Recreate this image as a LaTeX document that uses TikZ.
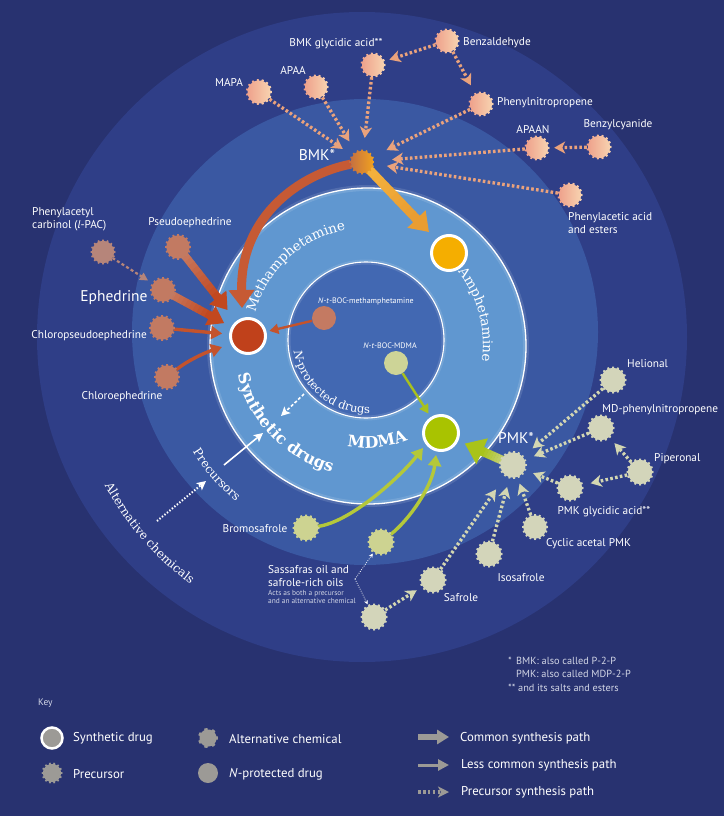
\documentclass[tikz,border=0pt]{standalone}
\usepackage{fontspec}
\setmainfont{PT Sans}
\newfontfamily\slab{DejaVu Serif}
\usetikzlibrary{arrows.meta,calc,decorations.text}
\pgfdeclarelayer{bg}
\pgfdeclarelayer{arr}
\pgfsetlayers{bg,arr,main}
\definecolor{bgc}{HTML}{283270}
\definecolor{ringA}{HTML}{2F3E87}
\definecolor{ringB}{HTML}{3A58A2}
\definecolor{ringC}{HTML}{6097D0}
\definecolor{ringD}{HTML}{4268B2}
\definecolor{peachL}{HTML}{EE9F8A}
\definecolor{peachR}{HTML}{F8D6B2}
\definecolor{bmkL}{HTML}{C46E42}
\definecolor{bmkR}{HTML}{F2A41E}
\definecolor{ephc}{HTML}{C27A62}
\definecolor{lpacc}{HTML}{B6857A}
\definecolor{khaki}{HTML}{D3D5BA}
\definecolor{olive}{HTML}{CDD391}
\definecolor{methc}{HTML}{C0411B}
\definecolor{amphc}{HTML}{F5AE00}
\definecolor{mdmac}{HTML}{A9C300}
\definecolor{precline}{HTML}{EAA27C}
\definecolor{pmkline}{HTML}{D3D6B2}
\definecolor{methline}{HTML}{C4532C}
\definecolor{bmkmeth}{HTML}{C65A34}
\definecolor{greenline}{HTML}{B4C83A}
\definecolor{greenthin}{HTML}{A8C11E}
\definecolor{nbocmc}{HTML}{C47A62}
\definecolor{nbocdc}{HTML}{CDD497}
\definecolor{keygray}{HTML}{9C9A96}
\definecolor{notec}{HTML}{D2D6E6}
\definecolor{ampS}{HTML}{F6B43E}
\definecolor{ampE}{HTML}{E99D32}
\definecolor{pmkS}{HTML}{D2D8A4}
\definecolor{pmkE}{HTML}{A9C31A}
\definecolor{ephS}{HTML}{C98068}
\definecolor{ephE}{HTML}{C2481F}

% gear-like node: name, position, radius, fill options, teeth
\newcommand\gearnode[5]{%
  \node[circle,inner sep=0pt,minimum size={2*#3pt}] (#1) at (#2) {};
  \path[#4,shift={(#1.center)}] plot[domain=0:360,samples=240,variable=\t]
    ({(#3+1.5*(cos(#5*\t)>0.3))*cos(\t)},{(#3+1.5*(cos(#5*\t)>0.3))*sin(\t)}) -- cycle;
}
% gradient arrow: start node, tip coordinate, width, start colour, end colour, tip length, tip width
\newcommand\gradarrow[7]{%
  \coordinate (gbase) at ($(#2)!#6pt!(#1)$);
  \pgfmathsetmacro\gl{#6+2}%
  \coordinate (gpre) at ($(#2)!\gl pt!(#1)$);
  \foreach \i in {0,...,11}{%
    \pgfmathsetmacro\pa{\i/12}%
    \pgfmathsetmacro\pb{min((\i+1)/12+0.01,1)}%
    \pgfmathtruncatemacro\pc{\i*100/11}%
    \draw[line width=#3,#5!\pc!#4] ($(#1)!\pa!(gbase)$) -- ($(#1)!\pb!(gbase)$);
  }
  \draw[line width=#3,#5,-{Triangle[length=#6pt,width=#7pt]}] (gpre) -- (#2);
}
% text along an arc: centre, start angle, end angle, radius, format, text
\newcommand\arctext[6]{%
  \path[decorate,decoration={text along path,text={|#5|#6},text align=center}]
    ($(#1)+(#2:#4)$) arc[start angle=#2,end angle=#3,radius=#4];
}

\begin{document}
\begin{tikzpicture}[x=1pt,y=-1pt,
  lbl/.style={text=white,font=\fontsize{11.3}{13}\selectfont,inner sep=0pt},
  biglbl/.style={text=white,font=\fontsize{15.5}{17}\selectfont,inner sep=0pt},
  smalllbl/.style={text=white,font=\fontsize{8}{9}\selectfont,inner sep=0pt},
  tinylbl/.style={text=notec,font=\fontsize{7.4}{8.2}\selectfont,inner sep=0pt},
  notelbl/.style={text=notec,font=\fontsize{10.3}{11}\selectfont,inner sep=0pt,anchor=west},
  keylbl/.style={text=white,font=\fontsize{12.8}{14}\selectfont,inner sep=0pt,anchor=west},
  drug/.style={circle,draw=white,line width=3pt,minimum size=35pt,inner sep=0pt},
  nprot/.style={circle,minimum size=24pt,inner sep=0pt},
  precpath/.style={line width=3.3pt,dash pattern=on 2.6pt off 2.3pt,-{Stealth[length=11pt,width=12pt,inset=3pt]},shorten <=1pt},
  lesscom/.style={line width=3.4pt,-{Triangle[length=11pt,width=13pt]}},
  thinarr/.style={line width=2.4pt,-{Triangle[length=9pt,width=10pt]}},
  whitearr/.style={white,line width=1.6pt,-{Stealth[length=9pt,width=9pt,inset=2pt]}},
]
\useasboundingbox (0,0) rectangle (724,816);

\begin{pgfonlayer}{bg}
\fill[bgc] (0,0) rectangle (724,816);
\fill[ringA] (362,337) circle[radius=325];
\fill[ringB] (365,332) circle[radius=233];
\fill[ringC] (368,346) circle[radius=158];
\draw[white,opacity=0.12,line width=6pt] (368,346) circle[radius=158];
\draw[white,line width=1.3pt] (368,346) circle[radius=158];
\fill[ringD] (366,340) circle[radius=78];
\draw[white,opacity=0.12,line width=5pt] (366,340) circle[radius=78];
\draw[white,line width=1.1pt] (366,340) circle[radius=78];
\end{pgfonlayer}

\coordinate (cC) at (367,344);
\coordinate (cN) at (366,340);

% ---------- gears ----------
\gearnode{bmkg}{373,65}{11}{left color=peachL,right color=peachR}{15}
\gearnode{benz}{447,41}{11}{left color=peachL,right color=peachR}{15}
\gearnode{apaa}{316,87}{11}{left color=peachL,right color=peachR}{15}
\gearnode{mapa}{259,92}{11.5}{left color=peachL,right color=peachR}{15}
\gearnode{phnp}{481,104}{11}{left color=peachL,right color=peachR}{15}
\gearnode{apaan}{537,148}{11}{left color=peachL,right color=peachR}{15}
\gearnode{benzcy}{599,147}{11}{left color=peachL,right color=peachR}{15}
\gearnode{phaa}{570,195}{11}{left color=peachL,right color=peachR}{15}
\gearnode{bmk}{362,162}{11}{left color=bmkL,right color=bmkR}{16}
\gearnode{lpac}{103,252}{11}{fill=lpacc}{16}
\gearnode{pseudo}{178,247}{11.5}{fill=ephc}{16}
\gearnode{ephed}{163,290}{11.5}{fill=ephc}{16}
\gearnode{chlorops}{162,328}{11.5}{fill=ephc}{16}
\gearnode{chloroe}{167,377}{11.5}{fill=ephc}{16}
\gearnode{pmk}{513,465}{12.5}{fill=khaki}{17}
\gearnode{helional}{613,380}{12}{fill=khaki}{16}
\gearnode{mdp}{601,428}{12}{fill=khaki}{16}
\gearnode{piper}{640,472}{12}{fill=khaki}{16}
\gearnode{pmkg}{570,488}{12}{fill=khaki}{16}
\gearnode{cyclic}{535,527}{11.5}{fill=khaki}{16}
\gearnode{isosaf}{489,554}{12}{fill=khaki}{16}
\gearnode{safrole}{433,580}{12}{fill=khaki}{16}
\gearnode{sassl}{374,617}{12}{fill=khaki}{16}
\gearnode{sassu}{381,542}{12}{fill=olive}{16}
\gearnode{bromo}{306,528}{12}{fill=olive}{16}

% ---------- drugs ----------
\node[drug,fill=methc] (meth) at (248,336) {};
\node[drug,fill=amphc] (amph) at (449,253) {};
\node[drug,fill=mdmac] (mdma) at (441,433) {};
\node[nprot,fill=nbocmc] (nbocm) at (324,318) {};
\node[nprot,fill=nbocdc] (nbocd) at (396,363) {};

% ---------- connectors ----------
\begin{pgfonlayer}{arr}
\draw[precpath,precline,shorten >=12pt] (mapa) -- (bmk);
\draw[precpath,precline,shorten >=13pt] (apaa) -- (bmk);
\draw[precpath,precline,shorten >=13pt] (bmkg) -- (bmk);
\draw[precpath,precline,shorten >=16pt] (phnp) -- (bmk);
\draw[precpath,precline,shorten >=19pt] (apaan) -- (bmk);
\draw[precpath,precline,shorten >=14pt] (phaa) -- (bmk);
\draw[precpath,precline,shorten >=6pt] (benz) -- (bmkg);
\draw[precpath,precline,shorten >=10pt] (benz) -- (phnp);
\draw[precpath,precline,shorten >=6pt] (benzcy) -- (apaan);

\draw[precpath,pmkline,shorten >=13pt] (helional) -- (pmk);
\draw[precpath,pmkline,shorten >=10pt] (mdp) -- (pmk);
\draw[precpath,pmkline,shorten >=9pt] (pmkg) -- (pmk);
\draw[precpath,pmkline,shorten >=7pt] (cyclic) -- (pmk);
\draw[precpath,pmkline,shorten >=10pt] (isosaf) -- (pmk);
\draw[precpath,pmkline,shorten >=17pt] (safrole) -- (pmk);
\draw[precpath,pmkline,shorten >=8pt] (piper) -- (mdp);
\draw[precpath,pmkline,shorten >=9pt] (piper) -- (pmkg);
\draw[precpath,pmkline,shorten >=7pt] (sassl) -- (safrole);

\coordinate (mt0) at ($(meth)+(-6,-28)$);
\draw[line width=9pt,bmkmeth,-{Triangle[length=18pt,width=25pt]}] (bmk) .. controls +(-62,12) and +(-2,-92) .. (mt0);
\coordinate (at0) at ($(amph)!29pt!(bmk)$);
\gradarrow{bmk}{at0}{9pt}{ampS}{ampE}{18}{24}
\coordinate (pt0) at ($(mdma)!26pt!(pmk)$);
\gradarrow{pmk}{pt0}{9pt}{pmkS}{pmkE}{19}{27}
\coordinate (mt1) at ($(meth)!33pt!(pseudo)$);
\gradarrow{pseudo}{mt1}{8pt}{ephS}{ephE}{16}{21}
\coordinate (mt2) at ($(meth)!27pt!(ephed)$);
\gradarrow{ephed}{mt2}{8pt}{ephS}{ephE}{16}{21}

\draw[line width=2.2pt,lpacc,dash pattern=on 3pt off 2.4pt,-{Triangle[length=8pt,width=8pt]},shorten >=6pt] (lpac) -- (ephed);
\draw[lesscom,methline,shorten >=7pt] (chlorops) -- (meth);
\coordinate (ctip) at ($(meth)+(-26,11)$);
\draw[lesscom,methline] (chloroe) .. controls +(20,-16) and +(-18,6) .. (ctip);
\draw[thinarr,methline,shorten >=3pt] (nbocm) -- (meth);
\draw[thinarr,greenthin,shorten >=4pt] (nbocd) -- (mdma);

\coordinate (gt1) at ($(mdma)+(-18,15)$);
\draw[lesscom,greenline] (bromo) .. controls +(45,-6) and +(-22,28) .. (gt1);
\coordinate (gt2) at ($(mdma)+(-5,22)$);
\draw[lesscom,greenline] (sassu) .. controls +(28,-22) and +(-4,32) .. (gt2);

\coordinate (sv) at (355,579);
\draw[white,line width=0.8pt,dash pattern=on 0.8pt off 1.4pt,-{Stealth[length=4pt,width=4pt]},shorten >=2pt] (sv) -- (sassu);
\draw[white,line width=0.8pt,dash pattern=on 0.8pt off 1.4pt,-{Stealth[length=4pt,width=4pt]},shorten >=2pt] (sv) -- (sassl);

\coordinate (wa1) at (304,394); \coordinate (wa2) at (281,416);
\draw[whitearr,dash pattern=on 3pt off 2pt] (wa1) -- (wa2);
\coordinate (wb1) at (224,465); \coordinate (wb2) at (263,433);
\draw[whitearr] (wb1) -- (wb2);
\coordinate (wc1) at (157,521); \coordinate (wc2) at (206,481);
\draw[whitearr,line width=2pt,dash pattern=on 1.4pt off 1.8pt] (wc1) -- (wc2);
\end{pgfonlayer}

% ---------- ring labels ----------
\arctext{cC}{193}{262}{116}{\slab\fontsize{13.5}{13.5}\selectfont\color{white}}{Methamphetamine}
\arctext{cC}{318}{372}{116}{\slab\fontsize{13.5}{13.5}\selectfont\color{white}}{Amphetamine}
\arctext{cC}{168}{104}{133}{\slab\bfseries\fontsize{16}{16}\selectfont\color{white}}{Synthetic drugs}
\arctext{cC}{108}{60}{104}{\slab\bfseries\fontsize{16}{16}\selectfont\color{white}}{MDMA}
\arctext{cN}{182}{76}{73}{\slab\fontsize{11.5}{11.5}\selectfont\color{white}\itshape}{N|\slab\fontsize{11.5}{11.5}\selectfont\color{white}\upshape|-protected drugs}
\arctext{cC}{153}{125}{205}{\slab\fontsize{12}{12}\selectfont\color{white}}{Precursors}
\arctext{cC}{157}{121}{298}{\slab\fontsize{12}{12}\selectfont\color{white}}{Alternative chemicals}

% ---------- labels ----------
\node[lbl] (tmapa) at (229,82) {MAPA};
\node[lbl] (tapaa) at (293,70) {APAA};
\node[lbl] (tbmkg) at (336,44) {BMK glycidic acid**};
\node[lbl,anchor=west] (tbenz) at (463,43) {Benzaldehyde};
\node[lbl,anchor=west] (tphnp) at (497,103) {Phenylnitropropene};
\node[lbl] (tapaan) at (533,130) {APAAN};
\node[lbl] (tbenzcy) at (618,125) {Benzylcyanide};
\node[lbl,anchor=west,align=left] (tphaa) at (568,223) {Phenylacetic acid\\and esters};
\node[biglbl] (tbmk) at (317,155) {BMK*};
\node[lbl,anchor=west,align=left] (tlpac) at (32,219) {Phenylacetyl\\carbinol (\textit{l}-PAC)};
\node[lbl] (tpseudo) at (190,223) {Pseudoephedrine};
\node[biglbl] (tephed) at (114,298) {Ephedrine};
\node[lbl,anchor=east] (tchlorops) at (147,336) {Chloropseudoephedrine};
\node[lbl] (tchloroe) at (122,397) {Chloroephedrine};
\node[smalllbl] (tnbocm) at (366,301) {\textit{N}-\textit{t}-BOC-methamphetamine};
\node[smalllbl] (tnbocd) at (390,346) {\textit{N}-\textit{t}-BOC-MDMA};
\node[lbl,anchor=west] (thel) at (627,364) {Helional};
\node[lbl,anchor=west] (tmdp) at (602,410) {MD-phenylnitropropene};
\node[lbl,anchor=west] (tpiper) at (654,459) {Piperonal};
\node[lbl] (tpmkg) at (604,512) {PMK glycidic acid**};
\node[lbl,anchor=west] (tcyclic) at (546,544) {Cyclic acetal PMK};
\node[biglbl] (tpmk) at (516,438) {PMK*};
\node[lbl] (tisosaf) at (521,578) {Isosafrole};
\node[lbl] (tsafrole) at (461,598) {Safrole};
\node[lbl] (tbromo) at (255,529) {Bromosafrole};
\node[lbl,anchor=west,align=left] (tsass) at (268,576) {Sassafras oil and\\safrole-rich oils};
\node[tinylbl,anchor=west,align=left] (tacts) at (268,597) {Acts as both a precursor\\and an alternative chemical};

% ---------- notes ----------
\node[notelbl] (n1) at (508,661) {\makebox[8pt][l]{*}BMK: also called P-2-P};
\node[notelbl] (n2) at (516,674) {PMK: also called MDP-2-P};
\node[notelbl] (n3) at (508,688) {** and its salts and esters};

% ---------- key ----------
\node[keylbl,font=\fontsize{9.5}{10}\selectfont,text=notec] (tkey) at (38,703) {Key};
\node[circle,fill=keygray,draw=white,line width=2.5pt,minimum size=21pt,inner sep=0pt] (ksyn) at (52,738) {};
\node[keylbl] (tksyn) at (73,738) {Synthetic drug};
\gearnode{kprec}{52,773}{9}{fill=keygray}{14}
\node[keylbl] (tkprec) at (73,774) {Precursor};
\gearnode{kalt}{208,738}{8.5}{fill=keygray}{7}
\node[keylbl] (tkalt) at (229,739) {Alternative chemical};
\node[circle,fill=keygray,minimum size=20pt,inner sep=0pt] (knp) at (208,773) {};
\node[keylbl] (tknp) at (229,774) {\textit{N}-protected drug};
\coordinate (ka1) at (418,737); \coordinate (ka2) at (449,737);
\draw[line width=6pt,keygray,-{Triangle[length=12pt,width=14pt]}] (ka1) -- (ka2);
\node[keylbl] (tka) at (460,738) {Common synthesis path};
\coordinate (kb1) at (418,765); \coordinate (kb2) at (449,765);
\draw[line width=3pt,keygray,-{Triangle[length=11pt,width=11pt]}] (kb1) -- (kb2);
\node[keylbl] (tkb) at (461,765) {Less common synthesis path};
\coordinate (kc1) at (418,792); \coordinate (kc2) at (449,792);
\draw[line width=3.3pt,keygray,dash pattern=on 2.6pt off 2.3pt,-{Stealth[length=11pt,width=11pt,inset=3pt]}] (kc1) -- (kc2);
\node[keylbl] (tkc) at (461,792) {Precursor synthesis path};
\end{tikzpicture}
\end{document}
